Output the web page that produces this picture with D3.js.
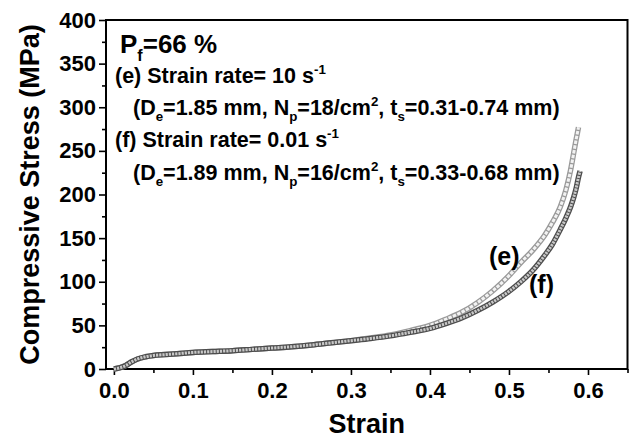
<!DOCTYPE html>
<html lang="en">
  <head>
    <meta charset="UTF-8" />
    <title>stress strain</title>
    <style>
      body { margin: 0; background: #fff; }
      text { font-family: Arial, 'Liberation Sans', sans-serif; font-weight: bold; }
    </style>
  </head>
  <body>
    <svg id="svg" width="629" height="439"></svg>
    <script src="https://cdn.jsdelivr.net/npm/d3@7"></script>
    <script>
      // values
      const strainE = [0.000, 0.008, 0.015, 0.022, 0.030, 0.040, 0.050, 0.065, 0.080, 0.100, 0.125, 0.150, 0.175, 0.200, 0.225, 0.250, 0.275, 0.300, 0.325, 0.350, 0.375, 0.400, 0.420, 0.440, 0.460, 0.480, 0.500, 0.515, 0.530, 0.545, 0.555, 0.565, 0.572, 0.578, 0.582, 0.585, 0.588]
      const stressE = [0, 1.5, 4, 8, 11.5, 14, 15.5, 16.5, 17.5, 19, 20, 21, 22.5, 24, 25.5, 27.5, 30, 32.5, 35.5, 39, 44, 50, 57, 65, 76, 90, 107, 122, 136, 153, 168, 186, 205, 228, 248, 263, 277]
      const strainF = [0.000, 0.008, 0.015, 0.022, 0.030, 0.040, 0.050, 0.065, 0.080, 0.100, 0.125, 0.150, 0.175, 0.200, 0.225, 0.250, 0.275, 0.300, 0.325, 0.350, 0.375, 0.400, 0.420, 0.440, 0.460, 0.480, 0.500, 0.515, 0.530, 0.545, 0.555, 0.565, 0.572, 0.578, 0.582, 0.585, 0.588, 0.590]
      const stressF = [0, 1.5, 4, 8, 11.5, 14, 15.5, 16.5, 17.5, 19, 20, 21, 22.5, 24, 25.5, 27.5, 30, 32.5, 35, 38, 42, 46.5, 52, 58.5, 67, 77, 89, 100, 113, 130, 143, 160, 173, 186, 197, 207, 220, 227]

      const xTicks = [0, 0.1, 0.2, 0.3, 0.4, 0.5, 0.6]
      const xMinor = [0.05, 0.15, 0.25, 0.35, 0.45, 0.55, 0.65]
      const yTicks = [0, 50, 100, 150, 200, 250, 300, 350, 400]
      const yMinor = [25, 75, 125, 175, 225, 275, 325, 375]

      const svg = d3.select('#svg')
      const margin = { left: 106, top: 20, right: 1.5, bottom: 70 }
      const width = +svg.attr('width')
      const height = +svg.attr('height')

      const x = d3.scaleLinear().domain([-0.01, 0.65]).range([margin.left, width - margin.right])
      const y = d3.scaleLinear().domain([0, 400]).range([height - margin.bottom, margin.top])

      // axes
      const gx = svg.append('g').attr('transform', `translate(0,${y(0)})`)
      gx.call(d3.axisBottom(x).tickValues(xTicks).tickSize(6).tickSizeOuter(0).tickPadding(7).tickFormat(d3.format('.1f')))
      svg.append('g').attr('transform', `translate(0,${y(0)})`)
        .call(d3.axisBottom(x).tickValues(xMinor).tickSize(4).tickSizeOuter(0).tickFormat(''))

      const gy = svg.append('g').attr('transform', `translate(${x(-0.01)},0)`)
      gy.call(d3.axisLeft(y).tickValues(yTicks).tickSize(7).tickSizeOuter(0).tickPadding(3))
      svg.append('g').attr('transform', `translate(${x(-0.01)},0)`)
        .call(d3.axisLeft(y).tickValues(yMinor).tickSize(4).tickSizeOuter(0).tickFormat(''))

      svg.selectAll('.tick line').attr('stroke', '#000').attr('stroke-width', 1.6)
      svg.selectAll('.domain').attr('stroke', 'none')
      svg.selectAll('.tick text').attr('font-size', 22).attr('fill', '#000')
        .attr('font-family', "Arial, 'Liberation Sans', sans-serif").attr('font-weight', 'bold')

      svg.append('rect')
        .attr('x', x(-0.01)).attr('y', y(400))
        .attr('width', x(0.65) - x(-0.01)).attr('height', y(0) - y(400))
        .attr('fill', 'none').attr('stroke', '#000').attr('stroke-width', 2)

      // axis titles
      svg.append('text').attr('x', (x(-0.01) + x(0.65)) / 2).attr('y', 433)
        .attr('text-anchor', 'middle').attr('font-size', 27).text('Strain')
      svg.append('text').attr('transform', `translate(39,${(y(0) + y(400)) / 2}) rotate(-90)`)
        .attr('text-anchor', 'middle').attr('font-size', 27).text('Compressive Stress (MPa)')

      // curves
      const line = d3.line().x((d) => x(d[0])).y((d) => y(d[1])).curve(d3.curveMonotoneX)
      const dataE = strainE.map((s, i) => [s, stressE[i]])
      const dataF = strainF.map((s, i) => [s, stressF[i]])

      function band(data, outer, inner, dash) {
        svg.append('path').attr('d', line(data)).attr('fill', 'none')
          .attr('stroke', outer).attr('stroke-width', 5.5)
        svg.append('path').attr('d', line(data)).attr('fill', 'none')
          .attr('stroke', inner).attr('stroke-width', 3).attr('stroke-dasharray', dash)
      }
      band(dataE, '#9a9a9a', '#f2f2f2', '3.5 1.3')
      band(dataF, '#4d4d4d', '#c8c8c8', '2.2 1')

      svg.append('text').attr('x', 489).attr('y', 265).attr('font-size', 25).text('(e)')
      svg.append('text').attr('x', 529).attr('y', 293).attr('font-size', 25).text('(f)')

      // annotation with sub/superscripts
      function rich(px, py, size, parts) {
        const t = svg.append('text').attr('x', px).attr('y', py).attr('font-size', size)
        let back = 0
        parts.forEach((p) => {
          if (typeof p === 'string') {
            t.append('tspan').attr('dy', back).text(p)
            back = 0
          } else {
            const dy = p.sub ? size * 0.3 : -size * 0.42
            t.append('tspan').attr('dy', dy + back).attr('font-size', size * 0.62).text(p.sub || p.sup)
            back = -dy
          }
        })
      }
      rich(120, 53, 26, ['P', { sub: 'f' }, '=66 %'])
      rich(115, 83, 21.5, ['(e) Strain rate= 10 s', { sup: '-1' }])
      rich(133, 115, 21.5, ['(D', { sub: 'e' }, '=1.85 mm, N', { sub: 'p' }, '=18/cm', { sup: '2' }, ', t', { sub: 's' }, '=0.31-0.74 mm)'])
      rich(115, 147, 21.5, ['(f) Strain rate= 0.01 s', { sup: '-1' }])
      rich(133, 180, 21.5, ['(D', { sub: 'e' }, '=1.89 mm, N', { sub: 'p' }, '=16/cm', { sup: '2' }, ', t', { sub: 's' }, '=0.33-0.68 mm)'])
    </script>
  </body>
</html>
